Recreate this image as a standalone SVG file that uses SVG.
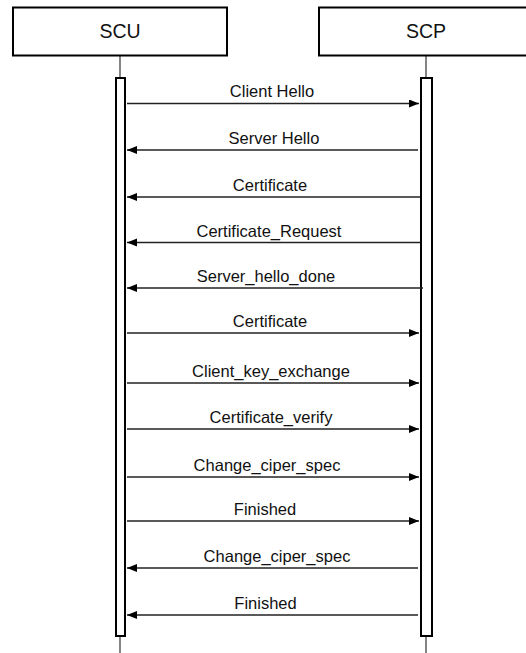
<svg xmlns="http://www.w3.org/2000/svg" width="526" height="653" viewBox="0 0 526 653">
<style>
.box{fill:#fff;stroke:#000;stroke-width:2}
.life{stroke:#333;stroke-width:1.2;fill:none}
.act{fill:#fff;stroke:#000;stroke-width:2}
.msg{stroke:#222;stroke-width:1.3;fill:none;marker-end:url(#ah)}
.lbl{font-family:"Liberation Sans",Arial,sans-serif;font-size:16.5px;fill:#111;text-anchor:middle}
.title{font-family:"Liberation Sans",Arial,sans-serif;font-size:19.5px;fill:#111;text-anchor:middle}
</style>
<defs>
<marker id="ah" markerUnits="userSpaceOnUse" markerWidth="11" markerHeight="9" refX="10" refY="4" orient="auto">
<path d="M0,0 L10,4 L0,8 z" fill="#000"/>
</marker>
</defs>
<rect width="526" height="653" fill="#fff"/>
<g id="scu">
<line class="life" x1="120" y1="56" x2="120" y2="653"/>
<rect class="box" x="13" y="7.5" width="214" height="48"/>
<text class="title" x="120" y="38">SCU</text>
<rect class="act" x="116" y="78" width="9" height="558"/>
</g>
<g id="scp">
<line class="life" x1="426" y1="56" x2="426" y2="653"/>
<rect class="box" x="319" y="7.5" width="214" height="48"/>
<text class="title" x="426" y="38">SCP</text>
<rect class="act" x="421" y="78" width="11" height="558"/>
</g>
<g id="connectors">
<line class="msg" x1="127" y1="103.5" x2="419" y2="103.5"/>
<line class="msg" x1="418" y1="150" x2="127" y2="150"/>
<line class="msg" x1="420" y1="197" x2="127" y2="197"/>
<line class="msg" x1="420" y1="242.5" x2="127" y2="242.5"/>
<line class="msg" x1="423" y1="288" x2="127" y2="288"/>
<line class="msg" x1="127" y1="333" x2="419" y2="333"/>
<line class="msg" x1="127" y1="383" x2="419" y2="383"/>
<line class="msg" x1="127" y1="429" x2="419" y2="429"/>
<line class="msg" x1="127" y1="477" x2="419" y2="477"/>
<line class="msg" x1="127" y1="521" x2="419" y2="521"/>
<line class="msg" x1="418" y1="568" x2="127" y2="568"/>
<line class="msg" x1="418" y1="615" x2="127" y2="615"/>
</g>
<g id="labels">
<text class="lbl" x="272" y="97">Client Hello</text>
<text class="lbl" x="274" y="144">Server Hello</text>
<text class="lbl" x="270" y="191">Certificate</text>
<text class="lbl" x="269" y="236.5">Certificate_Request</text>
<text class="lbl" x="266" y="282">Server_hello_done</text>
<text class="lbl" x="270" y="327">Certificate</text>
<text class="lbl" x="271" y="377">Client_key_exchange</text>
<text class="lbl" x="271" y="423">Certificate_verify</text>
<text class="lbl" x="267" y="471">Change_ciper_spec</text>
<text class="lbl" x="265" y="515">Finished</text>
<text class="lbl" x="277" y="562">Change_ciper_spec</text>
<text class="lbl" x="265.5" y="609">Finished</text>
</g>
</svg>
